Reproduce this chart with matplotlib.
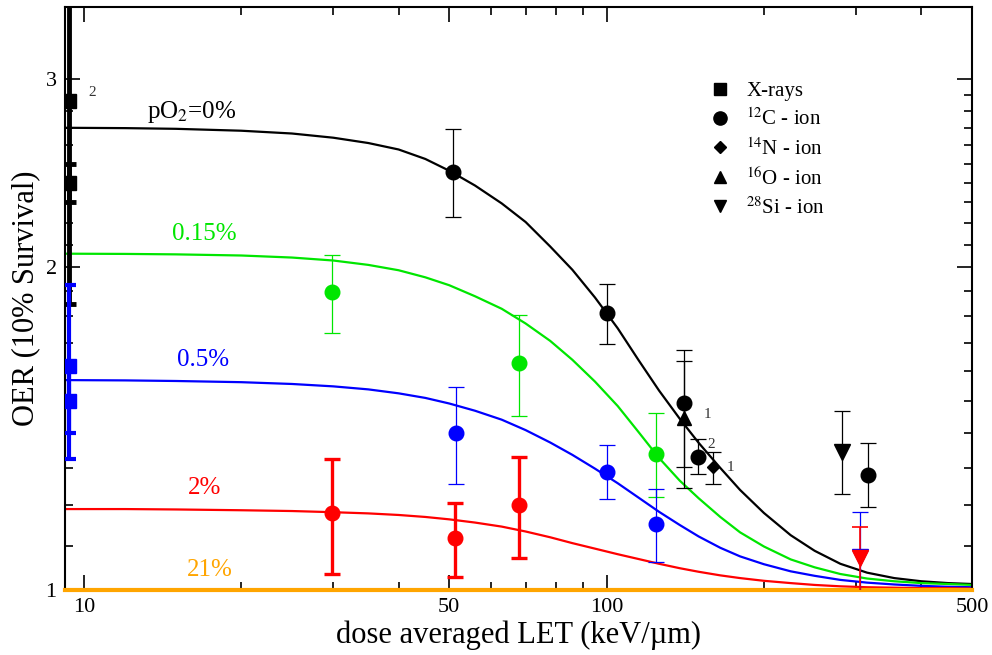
import matplotlib
matplotlib.use("Agg")
import matplotlib.pyplot as plt
from matplotlib import ticker
from matplotlib.lines import Line2D
import numpy as np

plt.rcParams['font.family'] = ['Liberation Serif', 'DejaVu Serif']
plt.rcParams['mathtext.fontset'] = 'stix'

# ---- model curves (OER vs LET) ----
curve_let = [9.2, 12, 15, 20, 25, 30, 35, 40, 45, 50, 56, 63, 70, 78, 86, 95, 105, 115,
             126, 138, 150, 165, 180, 200, 225, 250, 280, 315, 355, 400, 450, 500]
curve_0 = [2.700, 2.698, 2.694, 2.683, 2.667, 2.643, 2.613, 2.577, 2.525, 2.462, 2.385,
           2.295, 2.205, 2.092, 1.990, 1.875, 1.755, 1.640, 1.535, 1.445, 1.372, 1.300,
           1.240, 1.180, 1.125, 1.088, 1.058, 1.038, 1.026, 1.019, 1.015, 1.013]
curve_015 = [2.060, 2.059, 2.057, 2.052, 2.043, 2.030, 2.011, 1.988, 1.958, 1.925, 1.880,
             1.830, 1.773, 1.708, 1.640, 1.565, 1.485, 1.405, 1.328, 1.265, 1.218, 1.170,
             1.132, 1.098, 1.068, 1.050, 1.035, 1.025, 1.019, 1.015, 1.013, 1.011]
curve_05 = [1.570, 1.569, 1.567, 1.563, 1.557, 1.549, 1.539, 1.526, 1.511, 1.493, 1.470,
            1.442, 1.410, 1.373, 1.337, 1.298, 1.258, 1.220, 1.183, 1.150, 1.122, 1.095,
            1.075, 1.057, 1.041, 1.031, 1.022, 1.016, 1.012, 1.009, 1.007, 1.006]
curve_2 = [1.190, 1.190, 1.189, 1.187, 1.185, 1.182, 1.179, 1.175, 1.170, 1.164, 1.156,
           1.146, 1.134, 1.120, 1.106, 1.093, 1.080, 1.069, 1.058, 1.048, 1.040, 1.032,
           1.026, 1.020, 1.015, 1.011, 1.008, 1.006, 1.005, 1.004, 1.004, 1.003]
curve_21 = [1.0] * len(curve_let)

# ---- X-ray reference points ----
xray_let = 9.35
xray_black = [2.86, 2.40]
xray_black_lo = [2.30, 1.85]
xray_black_hi = [4.00, 2.50]
xray_blue = [1.62, 1.50]
xray_blue_lo = [1.325, 1.40]
xray_blue_hi = [1.925, 1.60]

# ---- ion data: LET, OER, lower, upper, marker ----
black_let = [50.8, 100, 140.6, 140.6, 149.6, 160, 282, 316]
black_oer = [2.455, 1.814, 1.495, 1.447, 1.331, 1.303, 1.345, 1.280]
black_lo = [2.23, 1.697, 1.303, 1.245, 1.283, 1.256, 1.229, 1.195]
black_hi = [2.694, 1.93, 1.675, 1.637, 1.383, 1.346, 1.469, 1.372]
black_mk = ['o', 'o', 'o', '^', 'o', 'D', 'v', 'o']

green_let = [29.8, 67.9, 124.3]
green_oer = [1.896, 1.628, 1.34]
green_lo = [1.736, 1.453, 1.221]
green_hi = [2.056, 1.804, 1.463]
green_mk = ['o', 'o', 'o']

blue_let = [51.5, 100, 124.3, 305]
blue_oer = [1.40, 1.289, 1.152, 1.073]
blue_lo = [1.255, 1.216, 1.062, 0.99]
blue_hi = [1.546, 1.366, 1.243, 1.183]
blue_mk = ['o', 'o', 'o', 'v']

red_let = [29.8, 51.2, 67.9, 305]
red_oer = [1.18, 1.118, 1.20, 1.071]
red_lo = [1.035, 1.028, 1.071, 0.99]
red_hi = [1.325, 1.206, 1.33, 1.145]
red_mk = ['o', 'o', 'o', 'v']

GREEN = '#00e600'
BLUE = '#0000ff'
RED = '#ff0000'
ORANGE = '#ffa500'

msize = {'o': 10.5, '^': 9.5, 'v': 11, 'D': 6.5, 's': 9.5}

fig = plt.figure(figsize=(9.92, 6.55), dpi=100)
ax = fig.add_axes([0.0655, 0.0992, 0.9143, 0.8901])
ax.set_xscale('log')
ax.set_yscale('log')

# curves
ax.plot(curve_let, curve_0, color='black', lw=1.6, zorder=2)
ax.plot(curve_let, curve_015, color=GREEN, lw=1.6, zorder=2)
ax.plot(curve_let, curve_05, color=BLUE, lw=1.6, zorder=2)
ax.plot(curve_let, curve_2, color=RED, lw=1.6, zorder=2)
ax.plot(curve_let, curve_21, color=ORANGE, lw=3, zorder=3, clip_on=False)


def draw_points(let, oer, lo, hi, mk, color, lw, cap):
    for x, y, l, h, m in zip(let, oer, lo, hi, mk):
        ax.errorbar([x], [y], yerr=[[y - l], [h - y]], fmt=m, color=color,
                    ms=msize[m], elinewidth=lw, capsize=cap, capthick=lw, zorder=4)


# X-rays
draw_points([xray_let] * 2, xray_black, xray_black_lo, xray_black_hi, ['s', 's'], 'black', 3.5, 5)
draw_points([xray_let] * 2, xray_blue, xray_blue_lo, xray_blue_hi, ['s', 's'], BLUE, 3.0, 5)

# ions
draw_points(black_let, black_oer, black_lo, black_hi, black_mk, 'black', 0.9, 5.5)
draw_points(green_let, green_oer, green_lo, green_hi, green_mk, GREEN, 0.9, 5.5)
draw_points(blue_let, blue_oer, blue_lo, blue_hi, blue_mk, BLUE, 0.9, 5.5)
draw_points(red_let[:3], red_oer[:3], red_lo[:3], red_hi[:3], red_mk[:3], RED, 2.4, 5.5)
draw_points(red_let[3:], red_oer[3:], red_lo[3:], red_hi[3:], red_mk[3:], RED, 1.2, 5.5)

# curve labels
ax.text(16.1, 2.795, r'pO$_2$=0%', color='black', fontsize=18, ha='center', va='center')
ax.text(17.0, 2.15, '0.15%', color=GREEN, fontsize=18, ha='center', va='center')
ax.text(16.9, 1.64, '0.5%', color=BLUE, fontsize=18, ha='center', va='center')
ax.text(17.0, 1.245, '2%', color=RED, fontsize=18, ha='center', va='center')
ax.text(17.4, 1.044, '21%', color=ORANGE, fontsize=18, ha='center', va='center')

# reference indices
ax.text(10.2, 2.91, '2', fontsize=11, color='#333333', ha='left', va='center')
ax.text(153.5, 1.457, '1', fontsize=11, color='#333333', ha='left', va='center')
ax.text(156.0, 1.366, '2', fontsize=11, color='#333333', ha='left', va='center')
ax.text(170.0, 1.30, '1', fontsize=11, color='#333333', ha='left', va='center')

# legend
handles = [Line2D([], [], ls='none', marker=m, color='black', ms=s)
           for m, s in [('s', 8), ('o', 9.5), ('D', 6.5), ('^', 9), ('v', 9)]]
labels = ['X-rays', r'$^{12}$C - ion', r'$^{14}$N - ion', r'$^{16}$O - ion', r'$^{28}$Si - ion']
ax.legend(handles, labels, loc='upper left', bbox_to_anchor=(0.711, 0.872),
          frameon=False, fontsize=15, borderpad=0, borderaxespad=0,
          handlelength=1.0, handletextpad=0.75, labelspacing=0.36)

# axes
ax.set_xlim(9.2, 500)
ax.set_ylim(1, 3.5)
ax.xaxis.set_major_locator(ticker.FixedLocator([10, 50, 100, 500]))
ax.xaxis.set_major_formatter(ticker.FixedFormatter(['10', '50', '100', '500']))
ax.xaxis.set_minor_locator(ticker.FixedLocator([20, 30, 40, 60, 70, 80, 90, 200, 300, 400]))
ax.xaxis.set_minor_formatter(ticker.NullFormatter())
ax.yaxis.set_major_locator(ticker.FixedLocator([1, 2, 3]))
ax.yaxis.set_major_formatter(ticker.FixedFormatter(['1', '2', '3']))
ax.yaxis.set_minor_locator(ticker.FixedLocator(list(np.arange(1.1, 2.0, 0.1)) + list(np.arange(2.1, 3.0, 0.1))))
ax.yaxis.set_minor_formatter(ticker.NullFormatter())
ax.tick_params(which='both', direction='in', top=True, right=True, width=1.2, labelsize=16, pad=6)
ax.tick_params(which='major', length=11)
ax.tick_params(which='minor', length=5.5)
for s in ax.spines.values():
    s.set_linewidth(1.5)

ax.set_xlabel('dose averaged LET (keV/µm)', fontsize=22, labelpad=2)
ax.set_ylabel('OER (10% Survival)', fontsize=22, labelpad=4)

fig.savefig('out.png', dpi=100)
